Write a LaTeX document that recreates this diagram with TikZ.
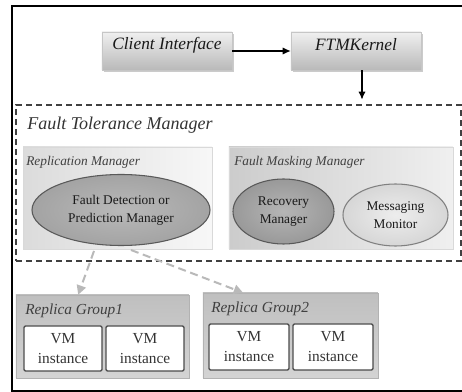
\documentclass[tikz,border=0pt]{standalone}
\usepackage{fontspec}
\setmainfont{Liberation Serif}
\usetikzlibrary{fit,calc,shadows,shapes.geometric,arrows.meta}
\begin{document}
\begin{tikzpicture}[x=0.75pt,y=-0.75pt,
  topbox/.style={draw=gray!45, inner sep=0pt, top color=gray!12, bottom color=gray!55,
     drop shadow={shadow xshift=1.5pt, shadow yshift=-1.5pt, fill=gray!50, opacity=0.8},
     font=\fontsize{13}{15}\selectfont\itshape, text=black!90},
  panel/.style={draw=gray!30, inner sep=0pt},
  oval/.style={ellipse, draw=black!65, line width=0.8pt, inner sep=0pt, align=center,
     font=\fontsize{10}{13.5}\selectfont, text=black!90},
  group/.style={draw=gray!60, inner sep=0pt, top color=gray!50, bottom color=gray!34},
  vmbox/.style={draw=black!70, line width=1pt, fill=white, rounded corners=1pt, inner sep=0pt},
  vmtext/.style={align=center, font=\fontsize{11.5}{15}\selectfont, text=black!80},
  title/.style={anchor=west, inner sep=0pt, font=\itshape, text=black!75},
  arr/.style={-{Latex[length=6pt,width=5.5pt]}, line width=0.9pt, black},
  garr/.style={-{Triangle[length=7pt,width=7pt]}, line width=1.5pt, gray!55, dash pattern=on 6pt off 3.5pt}
]
\useasboundingbox (0,0) rectangle (462,392);
\fill[white] (0,0) rectangle (462,392);
% outer frame
\draw[line width=1.5pt] (462,6) -- (12,6);
\draw[line width=0.8pt] (12,5.5) -- (12,391) -- (462,391);

% top boxes
\node[topbox, fit={(102,32) (232,70)}] (ci) {Client Interface};
\node[topbox, fit={(291,32) (421,70)}] (ftm) {FTMKernel};
\draw[arr] (ci.east) -- (ftm.west);

% fault tolerance manager dashed box
\node[draw=black!75, line width=1.1pt, dash pattern=on 4.5pt off 3pt, inner sep=0pt,
      fit={(16,105) (461,261)}] (ftmbox) {};
\draw[arr, shorten >=3.5pt] ([xshift=4.5pt]ftm.south) -- ([xshift=4.5pt]ftm.south |- ftmbox.north);
\node[title, font=\fontsize{13.5}{16}\selectfont\itshape, text=black!80] (ftmlabel) at (27,125) {Fault Tolerance Manager};

% replication manager
\node[panel, left color=gray!28, right color=gray!6, fit={(23,147) (212,249)}] (repm) {};
\node[title, font=\fontsize{10}{12}\selectfont\itshape] (repmlabel) at (26,162) {Replication Manager};
\node[oval, inner color=gray!55, outer color=gray!72, minimum width=178*0.75pt, minimum height=71*0.75pt] (fd) at (121,210)
  {Fault Detection or\\Prediction Manager};

% fault masking manager
\node[panel, left color=gray!40, right color=gray!12, fit={(229,147) (453,249)}] (fmm) {};
\node[title, font=\fontsize{10}{12}\selectfont\itshape] (fmmlabel) at (234,162) {Fault Masking Manager};
\node[oval, inner color=gray!58, outer color=gray!80, minimum width=101*0.75pt, minimum height=65*0.75pt] (rec) at (283.5,211.5)
  {Recovery\\Manager};
\node[oval, draw=black!50, inner color=gray!14, outer color=gray!32, minimum width=105*0.75pt, minimum height=62*0.75pt] (msg) at (395.5,215)
  {Messaging\\Monitor};

% replica groups
\node[group, fit={(16,295) (189,378)}] (rg1) {};
\node[title, font=\fontsize{11.5}{14}\selectfont\itshape] (rg1label) at (25,311) {Replica Group1};
\node[vmbox, fit={(24,326) (102,371)}] (vm11) {};
\node[vmbox, fit={(106,326) (184,371)}] (vm12) {};
\node[vmtext] (t11) at (vm11.center) {VM\\instance};
\node[vmtext] (t12) at (vm12.center) {VM\\instance};

\node[group, fit={(203,293) (378,378)}] (rg2) {};
\node[title, font=\fontsize{11.5}{14}\selectfont\itshape] (rg2label) at (211,309) {Replica Group2};
\node[vmbox, fit={(209,324) (289,370)}] (vm21) {};
\node[vmbox, fit={(293,324) (373,370)}] (vm22) {};
\node[vmtext] (t21) at (vm21.center) {VM\\instance};
\node[vmtext] (t22) at (vm22.center) {VM\\instance};

% dashed gray arrows from fault detection
\coordinate (s1) at (94,251);
\coordinate (s2) at (131,250);
\draw[garr] (s1) -- ($(rg1.north west)!0.36!(rg1.north east)$);
\draw[garr] (s2) -- ($(rg2.north west)!0.23!(rg2.north east)$);
\end{tikzpicture}
\end{document}
